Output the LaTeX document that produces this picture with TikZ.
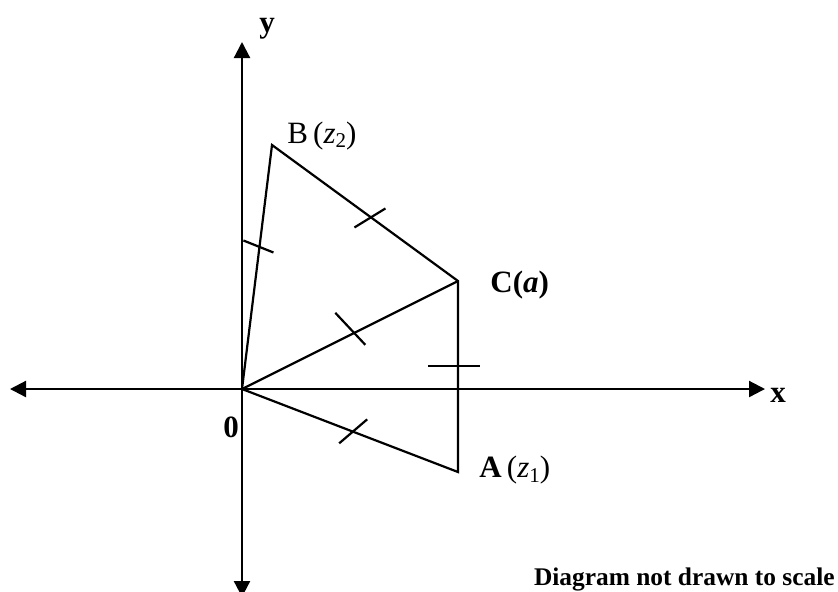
\documentclass[tikz,border=0pt]{standalone}
\usepackage{fontspec}
\setmainfont{Liberation Serif}
\usetikzlibrary{arrows.meta,calc}
\begin{document}
\begin{tikzpicture}[x=0.5pt,y=-0.5pt,
  axis/.style={line width=1.1pt,-{Triangle[length=8pt,width=8pt]}},
  side/.style={line width=1.1pt,line join=miter},
  tick/.style={line width=1.1pt},
  lbl/.style={inner sep=0pt,font=\fontsize{15.5}{18}\selectfont},
  sub/.style={}]
\useasboundingbox (0,0) rectangle (838,591);
\clip (0,0) rectangle (838,591);
\coordinate (O) at (242,389);
\coordinate (B) at (272,145);
\coordinate (C) at (458,281);
\coordinate (A) at (458,472);
\coordinate (xl) at (10,389);
\coordinate (xr) at (765,389);
\coordinate (yt) at (242,42);
\coordinate (yb) at (242,597);
% axes
\draw[axis] (O) -- (xr);
\draw[axis] (O) -- (xl);
\draw[axis] (O) -- (yt);
\draw[axis] (O) -- (yb);
% sides
\draw[side] (O) -- (B) -- (C) -- (A) -- cycle;
\draw[side] (O) -- (C);
% tick marks
\path (O) -- (B) coordinate[pos=0.58] (tOB);
\path (B) -- (C) coordinate[pos=0.54] (tBC);
\path (O) -- (C) coordinate[pos=0.52] (tOC);
\path (O) -- (A) coordinate[pos=0.51] (tOA);
\path (C) -- (A) coordinate[pos=0.445] (tCA);
\draw[tick] ($(tOB)+(-16,-7)$) -- ($(tOB)+(14,5)$);
\draw[tick] ($(tBC)+(-18,9)$) -- ($(tBC)+(13,-10)$);
\draw[tick] ($(tOC)+(-19,-20)$) -- ($(tOC)+(11,12)$);
\draw[tick] ($(tOA)+(-13,12)$) -- ($(tOA)+(15,-12)$);
\draw[tick] ($(tCA)+(-30,0)$) -- ($(tCA)+(22,0)$);
% labels
\node[lbl,anchor=base] (ylab) at (267,32) {\textbf{y}};
\node[lbl,anchor=base] (xlab) at (778,402) {\textbf{x}};
\node[lbl,anchor=base] (olab) at (231,437) {\textbf{0}};
\node[lbl,anchor=base west] (blab) at (287,143) {B\,(\textit{z}\raisebox{-0.35ex}{\fontsize{10.5}{12}\selectfont 2})};
\node[lbl,anchor=base west] (clab) at (490,292) {\textbf{C(\textit{a})}};
\node[lbl,anchor=base west] (alab) at (479,477) {\textbf{A}\,(\textit{z}\raisebox{-0.35ex}{\fontsize{10.5}{12}\selectfont 1})};
\node[inner sep=0pt,anchor=base east,font=\fontsize{12.7}{15}\selectfont\bfseries] (note) at (835,585) {Diagram not drawn to scale};
\end{tikzpicture}
\end{document}
